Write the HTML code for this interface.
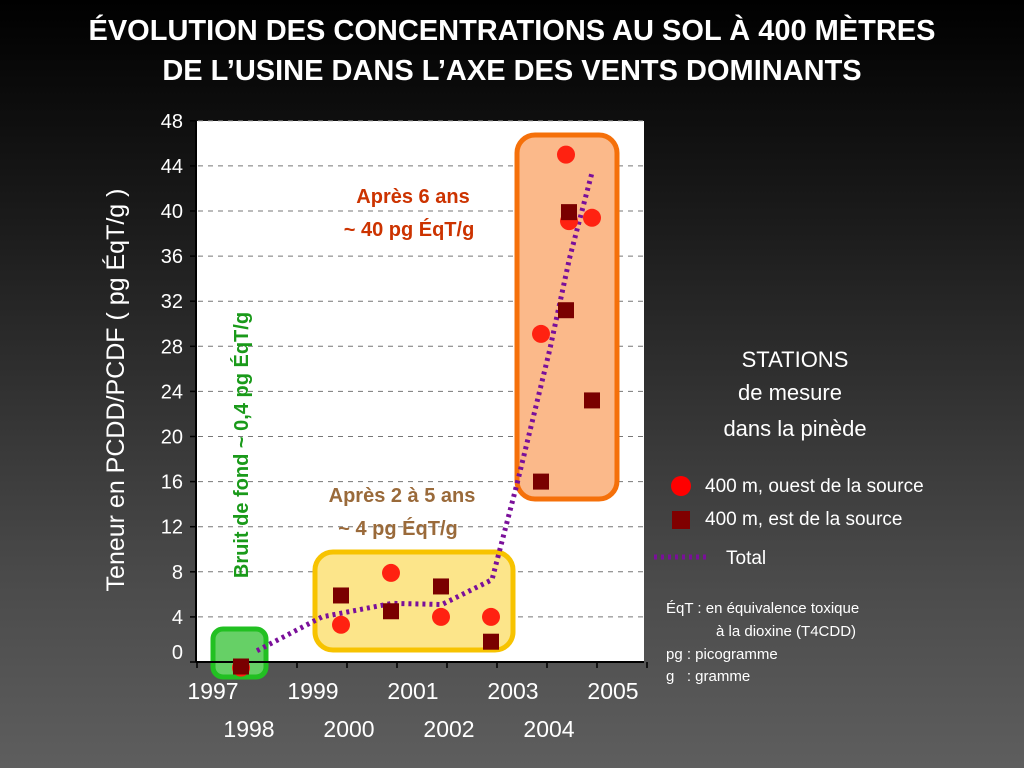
<!DOCTYPE html>
<html><head><meta charset="utf-8"><style>
body{margin:0;width:1024px;height:768px;overflow:hidden;background:linear-gradient(#000 0%,#1c1c1c 30%,#4a4a4a 75%,#5e5e5e 100%);font-family:"Liberation Sans",sans-serif;}
svg{position:absolute;left:0;top:0}
</style></head><body>
<svg width="1024" height="768" id="c">
<text x="512" y="40" fill="#fff" font-size="29" font-weight="bold" text-anchor="middle">ÉVOLUTION DES CONCENTRATIONS AU SOL À 400 MÈTRES</text>
<text x="512" y="80" fill="#fff" font-size="29" font-weight="bold" text-anchor="middle">DE L’USINE DANS L’AXE DES VENTS DOMINANTS</text>
<rect x="196" y="121" width="448" height="541" fill="#fff"/>
<g id="grid"></g>
<rect x="213" y="629" width="53" height="48" rx="10" fill="#66d066" stroke="#22c022" stroke-width="5"/>
<rect x="315" y="552" width="198" height="98" rx="18" fill="#fce58a" stroke="#f7c300" stroke-width="5"/>
<rect x="517" y="135" width="100" height="364" rx="18" fill="#fbb98a" stroke="#f5700a" stroke-width="5"/>
<line x1="196" y1="121" x2="196" y2="662" stroke="#000" stroke-width="2"/>
<line x1="196" y1="662" x2="644" y2="662" stroke="#000" stroke-width="2"/>
<g id="ticks"></g>
<polyline id="total" fill="none" stroke="#7a0f9a" stroke-width="5" stroke-dasharray="3,4"/>
<g id="marks"></g>
<text transform="translate(124,390) rotate(-90)" fill="#fff" font-size="25" text-anchor="middle">Teneur en PCDD/PCDF ( pg ÉqT/g )</text>
<text transform="translate(248,445) rotate(-90)" fill="#1a9a1a" font-size="20" font-weight="bold" text-anchor="middle">Bruit de fond ~ 0,4 pg ÉqT/g</text>
<text x="413" y="203" fill="#cc3300" font-size="20" font-weight="bold" text-anchor="middle">Après 6 ans</text>
<text x="409" y="236" fill="#cc3300" font-size="20" font-weight="bold" text-anchor="middle">~ 40 pg ÉqT/g</text>
<text x="402" y="502" fill="#9a6a3a" font-size="20" font-weight="bold" text-anchor="middle">Après 2 à 5 ans</text>
<text x="398" y="535" fill="#9a6a3a" font-size="20" font-weight="bold" text-anchor="middle">~ 4 pg ÉqT/g</text>
<g fill="#fff" font-size="22" text-anchor="middle">
<text x="795" y="367">STATIONS</text><text x="790" y="400">de mesure</text><text x="795" y="436">dans la pinède</text></g>
<circle cx="681" cy="486" r="10" fill="#f00"/>
<text x="705" y="492" fill="#fff" font-size="19">400 m, ouest de la source</text>
<rect x="672" y="511" width="18" height="18" fill="#800000"/>
<text x="705" y="525" fill="#fff" font-size="19">400 m, est de la source</text>
<line x1="654" y1="557" x2="708" y2="557" stroke="#7a0f9a" stroke-width="5" stroke-dasharray="3,4"/>
<text x="726" y="564" fill="#fff" font-size="19">Total</text>
<g fill="#fff" font-size="15">
<text x="666" y="613">ÉqT : en équivalence toxique</text><text x="716" y="636">à la dioxine (T4CDD)</text>
<text x="666" y="659">pg : picogramme</text><text x="666" y="681">g&#160;&#160;&#160;: gramme</text></g>
</svg>
<script>
const yTicks=[0,4,8,12,16,20,24,28,32,36,40,44,48];
const xTopLabels=[1997,1999,2001,2003,2005];
const xBottomLabels=[1998,2000,2002,2004];
const ouestX=[1997.88,1999.88,2000.88,2001.88,2002.88,2003.88,2004.38,2004.44,2004.9];
const ouestY=[-0.5,3.3,7.9,4,4,29.1,45,39.1,39.4];
const estX=[1997.88,1999.88,2000.88,2001.88,2002.88,2003.88,2004.38,2004.44,2004.9];
const estY=[-0.4,5.9,4.5,6.7,1.8,16,31.2,39.9,23.2];
const totalX=[1998.2,1999.5,2000.9,2001.9,2002.9,2003.4,2004.05,2004.45,2004.9];
const totalY=[1.0,4,5.2,5.1,7.3,15.8,27.6,35.8,43.4];
const NS="http://www.w3.org/2000/svg";
const xs=v=>197+50*(v-1997);
const ys=v=>662-11.275*v;
function mk(tag,parent,attrs){const e=document.createElementNS(NS,tag);for(const k in attrs)e.setAttribute(k,attrs[k]);document.getElementById(parent).appendChild(e);return e;}
yTicks.forEach(t=>{
 if(t>0){const g=mk('line','grid',{x1:198,x2:644,y1:ys(t),y2:ys(t),stroke:'#777','stroke-dasharray':'5,5'});
 
 }
 const tk=mk('line','ticks',{x1:190,x2:196,y1:ys(t),y2:ys(t),stroke:'#000','stroke-width':1.5});
 
 
 const l=mk('text','ticks',{x:183,y:(t===0?652:ys(t))+7,fill:'#fff','font-size':20,'text-anchor':'end'});
 l.textContent=t;
 
 
});
for(let y=1997;y<=2006;y++){const tk=mk('line','ticks',{x1:xs(y),x2:xs(y),y1:662,y2:668,stroke:'#000','stroke-width':1.5});
 
 }
xTopLabels.forEach(v=>{const l=mk('text','ticks',{x:xs(v)+16,y:699,fill:'#fff','font-size':23,'text-anchor':'middle'});l.textContent=v;
 
 });
xBottomLabels.forEach(v=>{const l=mk('text','ticks',{x:xs(v)+2,y:737,fill:'#fff','font-size':23,'text-anchor':'middle'});l.textContent=v;
 
 });
document.getElementById('total').setAttribute('points',totalX.map((x,i)=>xs(x)+','+ys(totalY[i])).join(' '));
ouestX.forEach((x,i)=>{const c=mk('circle','marks',{cx:xs(x),cy:ys(ouestY[i]),r:9,fill:'#f21'});
 
 });
estX.forEach((x,i)=>{const r=mk('rect','marks',{x:xs(x)-8,y:ys(estY[i])-8,width:16,height:16,fill:'#7a0000'});
 
 });
</script>
</body></html>
